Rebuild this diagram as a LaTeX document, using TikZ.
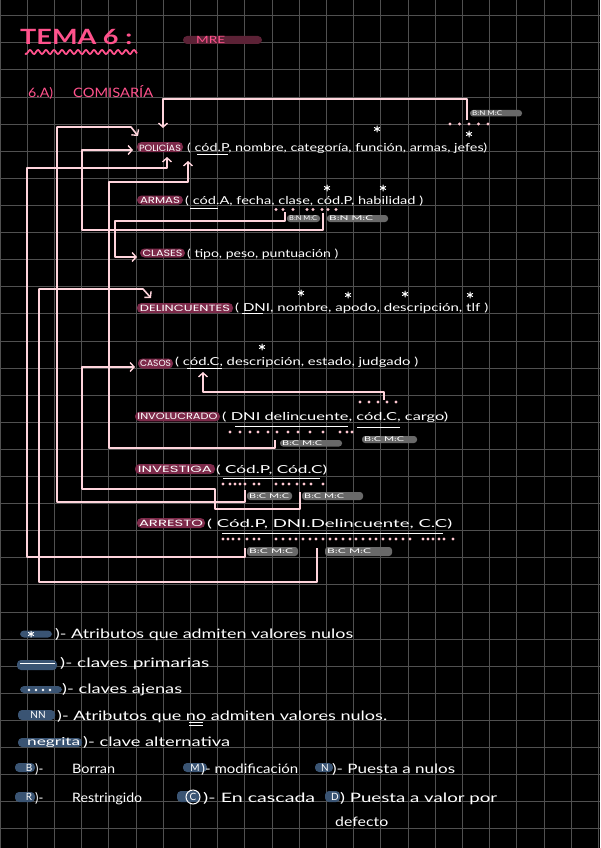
\documentclass[tikz,border=0pt]{standalone}
\usepackage{fontspec}
\usepackage{graphicx}
\setmainfont{Lato}
\newfontfamily\capf{Poppins}
\usetikzlibrary{arrows.meta}
\definecolor{gridc}{RGB}{80,80,80}
\definecolor{pinkT}{RGB}{255,82,140}
\definecolor{lnk}{RGB}{255,212,220}
\definecolor{maroon}{RGB}{125,42,74}
\definecolor{mrec}{RGB}{92,34,54}
\definecolor{greyp}{RGB}{105,105,105}
\definecolor{bluep}{RGB}{58,84,115}
\definecolor{dotc}{RGB}{255,200,210}
\newcommand{\fw}[2]{\resizebox{#1pt}{\height}{#2}}
\newcommand{\gpl}[7]{\fill[greyp, rounded corners=3pt] (#1,#2) rectangle (#3,#4);
  \node[gtxt, anchor=west] (#7) at ({#1+2},{(#2+#4)/2}) {\fw{#5}{#6}};}
\newcommand{\bpl}[4]{\fill[bluep, rounded corners=4pt] (#1,#2) rectangle (#3,#4);}
\begin{document}
\begin{tikzpicture}[x=1pt,y=-1pt,
 txt/.style={anchor=base west, inner sep=0pt, text=white, font=\fontsize{11}{11}\selectfont},
 lgd/.style={anchor=base west, inner sep=0pt, text=white, font=\fontsize{13}{13}\selectfont},
 tpill/.style={fill=maroon, rounded corners=4.5pt, inner sep=0pt, text=white, font=\capf\fontsize{9}{9}\selectfont},
 gtxt/.style={inner sep=0pt, text=white, font=\fontsize{6.5}{6.5}\selectfont},
 btxt/.style={inner sep=0pt, text=white, font=\fontsize{10}{10}\selectfont},
 link/.style={draw=lnk, line width=1.6pt, line join=round},
 arr/.style={link, -{Straight Barb[length=4pt,width=9pt,line width=1.4pt]}},
 uline/.style={draw=white, line width=1pt},
 fk/.style={fill=dotc},
 astk/.pic={\draw[white, line width=1pt, line cap=round] (0,-3)--(0,3) (-2.6,-1.5)--(2.6,1.5) (-2.6,1.5)--(2.6,-1.5);}]
\useasboundingbox (0,0) rectangle (600,848);
\fill[black] (0,0) rectangle (600,848);
\foreach \i in {0,...,22} \draw[gridc, line width=0.8pt] (27.2*\i,0) -- (27.2*\i,848);
\foreach \j in {0,...,30} \draw[gridc, line width=0.8pt] (0,15.7+27.1*\j) -- (600,15.7+27.1*\j);

% ---------- title ----------
\node[anchor=base west, inner sep=0pt, text=pinkT, font=\fontsize{21}{21}\selectfont\bfseries] (title) at (20,45) {\fw{112}{TEMA 6 :}};
\draw[pinkT, line width=1.8pt] plot[domain=25:137, samples=120] (\x, {52+2*sin(\x*45)});
\node[fill=mrec, rounded corners=4pt, minimum width=79pt, minimum height=8pt, inner sep=0pt] (mre) at (222.5,40) {};
\node[anchor=base west, inner sep=0pt, text=pinkT, font=\fontsize{10}{10}\selectfont] (mret) at (196,44) {\fw{29}{MRE}};
\node[anchor=base west, inner sep=0pt, text=pinkT, font=\fontsize{13}{13}\selectfont] (sec) at (28,98) {\fw{25}{6.A)}};
\node[anchor=base west, inner sep=0pt, text=pinkT, font=\fontsize{13}{13}\selectfont] (com) at (73,98) {\fw{80}{COMISARÍA}};

% ---------- POLICIAS ----------
\node[tpill, minimum width=46pt, minimum height=10pt] (pol) at (160,147) {\fw{42}{POLICÍAS}};
\node[txt] (polA) at (187,151) {\fw{300}{( cód.P, nombre, categoría, función, armas, jefes)}};
\draw[uline] (197,154.5) -- (228,154.5);
\pic at (377,129) {astk};
\pic at (469,134) {astk};
\foreach \x in {450,459.5,469,478.5,488} \fill[fk] (\x,124) circle (1.6);
\gpl{470}{110}{522}{116.5}{30}{B:N M:C}{gP}

% ---------- ARMAS ----------
\node[tpill, minimum width=46pt, minimum height=9pt] (arm) at (160,200) {\fw{40}{ARMAS}};
\node[txt] (armA) at (185,204) {\fw{238}{( cód.A, fecha, clase, cód.P, habilidad )}};
\draw[uline] (190,208) -- (218,208);
\pic at (327,188) {astk};
\pic at (383,188) {astk};
\foreach \x in {276,283,293,307,313,322,328,336} \fill[fk] (\x,209.5) circle (1.6);
\gpl{287}{215}{320}{222}{28}{B:N M:C}{gA1}
\gpl{327}{215}{388}{222}{44}{B:N M:C}{gA2}

% ---------- CLASES ----------
\node[tpill, minimum width=45pt, minimum height=9pt] (cla) at (162.5,253) {\fw{40}{CLASES}};
\node[txt] (claA) at (187,257) {\fw{151}{( tipo, peso, puntuación )}};

% ---------- DELINCUENTES ----------
\node[tpill, minimum width=96pt, minimum height=10pt] (del) at (185,308) {\fw{90}{DELINCUENTES}};
\node[txt] (delA) at (235,311.5) {\fw{253}{( DNI, nombre, apodo, descripción, tlf )}};
\draw[uline] (242,313.5) -- (263,313.5);
\pic at (301,293) {astk};
\pic at (348,295) {astk};
\pic at (405,294) {astk};
\pic at (470,295) {astk};

% ---------- CASOS ----------
\node[tpill, minimum width=35pt, minimum height=10pt] (cas) at (155.5,363.5) {\fw{31}{CASOS}};
\node[txt] (casA) at (175,365.5) {\fw{243}{( cód.C, descripción, estado, judgado )}};
\draw[uline] (187,368.5) -- (222,368.5);
\pic at (262,347) {astk};

% ---------- INVOLUCRADO ----------
\node[tpill, minimum width=85pt, minimum height=9.5pt] (inv) at (177.5,416.5) {\fw{80}{INVOLUCRADO}};
\node[txt] (invA) at (222,420) {\fw{226}{( DNI delincuente, cód.C, cargo)}};
\draw[uline] (235,426) -- (348,426);
\draw[uline] (357,427) -- (400,427);
\foreach \x in {360,369,378,387,396} \fill[fk] (\x,402) circle (1.6);
\foreach \x in {230,240,250,258,268,277,288,298,310,323,340,347,352} \fill[fk] (\x,432) circle (1.6);
\gpl{280}{440}{342}{446.5}{40}{B:C M:C}{gI1}
\gpl{362}{436}{417}{443}{40}{B:C M:C}{gI2}

% ---------- INVESTIGA ----------
\node[tpill, minimum width=80pt, minimum height=10pt] (ivs) at (175,469) {\fw{74}{INVESTIGA}};
\node[txt] (ivsA) at (216,473) {\fw{111}{( Cód.P, Cód.C)}};
\draw[uline] (223,478) -- (320,478);
\foreach \x in {223,230,235,240,245,254,259,276,283,289,297,304,311,323} \fill[fk] (\x,484) circle (1.6);
\gpl{247}{492}{292}{500}{40}{B:C M:C}{gV1}
\gpl{302}{492}{363}{500}{40}{B:C M:C}{gV2}

% ---------- ARRESTO ----------
\node[tpill, minimum width=68pt, minimum height=10pt] (arr) at (171,523) {\fw{64}{ARRESTO}};
\node[txt] (arrA) at (207,527.5) {\fw{245}{( Cód.P, DNI.Delincuente, C.C)}};
\draw[uline] (222,533) -- (443,533);
\foreach \x in {223,228,233,239,247,254,259,276,283,290,296,303,310,316,323,330,336,343,350,356,363,370,376,383,390,396,403,410,423,428,433,439,444,453} \fill[fk] (\x,539) circle (1.6);
\gpl{247}{547}{298}{556}{44}{B:C M:C}{gR1}
\gpl{325}{547}{392}{556}{44}{B:C M:C}{gR2}

% ---------- connectors ----------
\coordinate (jefes) at (467,120);
\coordinate (polTop) at (163,128);
\draw[arr] (jefes) -- (467,99) -- (163,99) -- (polTop);
\coordinate (ivsP) at (245,490);
\coordinate (polTL) at (138,136);
\draw[arr] (ivsP) -- (245,502) -- (57,502) -- (57,127) -- (131,127) -- (polTL);
\coordinate (armP) at (323,213);
\coordinate (polL) at (133,150);
\draw[arr] (armP) -- (323,230) -- (82,230) -- (82,150) -- (polL);
\coordinate (arrP) at (245,548);
\coordinate (polB1) at (167,157);
\draw[arr] (arrP) -- (245,557) -- (27,557) -- (27,168) -- (167,168) -- (polB1);
\coordinate (invD) at (275,440);
\coordinate (polB2) at (188,161);
\draw[arr] (invD) -- (275,448) -- (109,448) -- (109,182) -- (188,182) -- (polB2);
\coordinate (armC) at (285,212);
\coordinate (claL) at (137,257);
\draw[arr] (armC) -- (285,221) -- (115,221) -- (115,257) -- (claL);
\coordinate (arrD) at (317,548);
\coordinate (delL) at (151,298);
\draw[arr] (arrD) -- (317,582) -- (39,582) -- (39,289) -- (143,289) -- (delL);
\coordinate (invC) at (384,400);
\coordinate (casB) at (203,372);
\draw[arr] (invC) -- (384,392) -- (203,392) -- (casB);
\coordinate (ivsC) at (300,492);
\coordinate (casL) at (135,367);
\draw[arr] (ivsC) -- (300,509) -- (215,509) -- (215,489) -- (82,489) -- (82,367) -- (casL);

% ---------- legend ----------
\bpl{20}{630.5}{52}{637.5}
\pic at (31,634) {astk};
\node[lgd] (l1) at (55,638) {\fw{298}{)- Atributos que admiten valores nulos}};
\bpl{17}{660}{57}{670}
\draw[white, line width=1pt] (20,663.5) -- (55,663.5);
\node[lgd] (l2) at (60,667) {\fw{149}{)- claves primarias}};
\bpl{20}{686}{62}{693}
\foreach \x in {29,36,43,50} \fill[white] (\x,690) circle (1.3);
\node[lgd] (l3) at (62,693) {\fw{120}{)- claves ajenas}};
\bpl{18}{710}{55}{720}
\node[btxt] (nn) at (38,715) {NN};
\node[lgd] (l4) at (57,720) {\fw{330}{)- Atributos que no admiten valores nulos.}};
\draw[white, line width=0.9pt] (189,722.5) -- (203,722.5) (189,725) -- (203,725);
\bpl{18}{738}{82}{747}
\node[anchor=base west, inner sep=0pt, text=white, font=\fontsize{11}{11}\selectfont] (neg) at (27,745) {\fw{53}{negrita}};
\node[lgd] (l5) at (83,746) {\fw{147}{)- clave alternativa}};
% row 6
\bpl{15}{763}{35}{772}
\node[btxt] (bB) at (29,767.5) {B};
\node[lgd] (bBt) at (35,773) {)-};
\node[lgd] (bor) at (72,773) {\fw{43}{Borran}};
\bpl{183}{763}{207}{772}
\node[btxt] (bM) at (195,767.5) {M};
\node[lgd] (mod) at (201,773) {\fw{97}{)- modificación}};
\bpl{315}{763}{333}{772}
\node[btxt] (bN) at (325,767.5) {N};
\node[lgd] (pn) at (332,773) {\fw{123}{)- Puesta a nulos}};
% row 7
\bpl{15}{792}{35}{802}
\node[btxt] (bR) at (29,797) {R};
\node[lgd] (bRt) at (35,802) {)-};
\node[lgd] (res) at (72,802) {\fw{70}{Restringido}};
\bpl{177}{791}{200}{802}
\draw[white, line width=1pt] (193,797) circle (7);
\node[btxt] (bC) at (193,797) {C};
\node[lgd] (cas2) at (203,802) {\fw{112}{)- En cascada}};
\bpl{325}{791}{340}{802}
\node[btxt] (bD) at (335,797) {D};
\node[lgd] (pv) at (340,802) {\fw{157}{) Puesta a valor por}};
\node[lgd] (dfc) at (335,826) {\fw{53}{defecto}};
\end{tikzpicture}
\end{document}
